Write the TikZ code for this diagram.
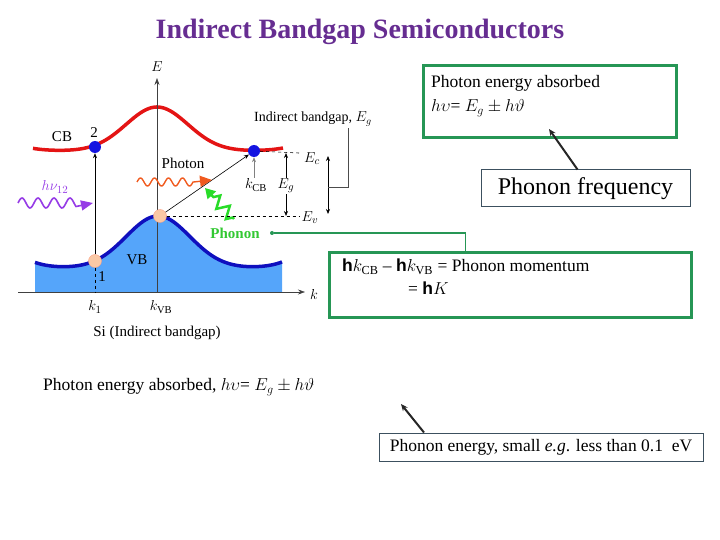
\documentclass[tikz,border=0pt]{standalone}
\usepackage{fontspec}
\setmainfont{Liberation Serif}
\setsansfont{Liberation Sans}
\usepackage{tikz}
\usetikzlibrary{
    arrows.meta,
    positioning,
    calc,
    decorations.pathmorphing
}
\definecolor{TitlePurple}{RGB}{102,45,145}
\definecolor{BoxGreen}{RGB}{38,150,85}
\definecolor{SlateLine}{RGB}{60,80,95}
\definecolor{CBRed}{RGB}{228,20,20}
\definecolor{DotBlue}{RGB}{20,20,225}
\definecolor{VBBlue}{RGB}{15,15,190}
\definecolor{VBFill}{RGB}{85,165,250}
\definecolor{HoleOrange}{RGB}{250,200,165}
\definecolor{WavePurple}{RGB}{150,60,230}
\definecolor{WaveOrange}{RGB}{240,90,30}
\definecolor{ZapGreen}{RGB}{40,220,40}
\definecolor{PhononGreen}{RGB}{50,200,50}
\newcommand{\hb}{\textsf{\textbf{h}}}
\tikzset{
  lbl/.style   = {font=\fontsize{15}{17}\selectfont, inner sep=1pt},
  txt/.style   = {font=\fontsize{17.5}{20}\selectfont, inner sep=0pt},
  gbox/.style  = {draw=BoxGreen, line width=3pt},
  sbox/.style  = {draw=SlateLine, line width=1pt, fill=white},
  ax/.style    = {-{Stealth[length=7pt,width=5pt]}, line width=0.6pt, black!75},
  tarr/.style  = {-{Stealth[length=5pt,width=4pt]}, line width=0.6pt},
  darr/.style  = {-{Stealth[length=7pt,width=6pt]}, line width=2pt, black!85},
  hole/.style  = {circle, fill=HoleOrange, draw=HoleOrange!80!red, minimum size=13pt, inner sep=0pt},
  elec/.style  = {circle, fill=DotBlue, minimum size=12pt, inner sep=0pt}
}

\begin{document}
\begin{tikzpicture}[x=1pt, y=-1pt]
\useasboundingbox (0,0) rectangle (720,540);

% title
\node[font=\fontsize{28}{30}\selectfont\bfseries, text=TitlePurple] (title) at (360,32) {Indirect Bandgap Semiconductors};

% bands
\fill[VBFill] plot[domain=35:282, samples=90] (\x, {268-52*exp(-(\x-158)*(\x-158)/2025)-6*((\x-158)*(\x-158)/15376)^4})
  -- (282,292) -- (35,292) -- cycle;
\draw[VBBlue, line width=3.5pt] plot[domain=35:282, samples=90] (\x, {268-52*exp(-(\x-158)*(\x-158)/2025)-6*((\x-158)*(\x-158)/15376)^4});
\draw[CBRed, line width=3.5pt] plot[domain=33:283, samples=90] (\x, {151-44*exp(-(\x-157)*(\x-157)/1900)-3*((\x-157)*(\x-157)/15876)^4});

% axes
\coordinate (origin) at (157,292);
\coordinate (etop) at (157,78);
\coordinate (kstart) at (18,292);
\coordinate (kend) at (305,292);
\draw[ax] (kstart) -- (kend);
\draw[ax] (origin) -- (etop);
\node[lbl] (elbl) at (157,67) {$E$};
\node[lbl] (klbl) at (314,294) {$k$};

% carriers
\node[hole] (h1) at (95,261) {};
\node[hole] (hvb) at (160,216) {};
\node[elec] (e2) at (95,147) {};
\node[elec] (ecb) at (254,151) {};
\draw[tarr] (h1) -- (e2);
\draw[dashed, line width=0.6pt] (h1) -- (h1 |- origin);
\draw[tarr] (hvb) -- (ecb);

\node[lbl] (cb) at (62,137) {CB};
\node[lbl] (n2) at (94,133) {2};
\node[lbl] (vb) at (137,260) {VB};
\node[lbl] (n1) at (102,277) {1};
\node[lbl] (k1) at (95,307) {$k_1$};
\node[lbl] (kvb) at (161,307) {$k_{\mathrm{VB}}$};
\node[lbl] (si) at (157,333) {Si (Indirect bandgap)};

% photons and phonon
\node[lbl, text=WavePurple] (hnu) at (55,187) {$h\nu_{12}$};
\coordinate (pw1) at (93,203);
\draw[WavePurple, line width=1.6pt, -{Triangle[length=12pt,width=10pt]}]
  plot[domain=0:58, samples=70, smooth] ({18+\x}, {203-5*sin(\x*22.5)}) -- (pw1);
\node[lbl] (photon) at (183,163) {Photon};
\coordinate (ow1) at (212,180);
\draw[WaveOrange, line width=1.4pt, -{Triangle[length=12pt,width=11pt]}]
  plot[domain=0:56, samples=70, smooth] ({137+\x}, {182-4*sin(\x*25.7)}) -- (ow1);
\coordinate (zz0) at (234,219);
\coordinate (zz1) at (205,188);
\draw[ZapGreen, line width=2.5pt, decorate,
      decoration={zigzag, amplitude=6pt, segment length=14pt, pre length=2pt, post length=9pt},
      -{Triangle[length=10pt,width=11pt]}] (zz0) -- (zz1);
\node[lbl, font=\fontsize{15}{17}\selectfont\bfseries, text=PhononGreen] (phonon) at (235,233) {Phonon};

% gap markers
\node[lbl] (kcb) at (256,185) {$k_{\mathrm{CB}}$};
\draw[tarr, gray] (kcb.north -| ecb) -- (ecb.south);
\coordinate (ecend) at (299,153);
\coordinate (evend) at (299,216);
\draw[dashed, line width=0.6pt] (ecb) -- (ecend);
\draw[dashed, line width=0.6pt] (hvb) -- (evend);
\node[lbl] (ec) at (312,159) {$E_c$};
\node[lbl] (ev) at (310,218) {$E_v$};
\node[lbl] (eg) at (286,186) {$E_g$};
\draw[tarr] (eg.north) -- (eg.north |- ecend);
\draw[tarr] (eg.south) -- (eg.south |- evend);
\coordinate (gtop) at (328,156);
\coordinate (gbot) at (328,214);
\draw[{Stealth[length=5pt,width=4pt]}-{Stealth[length=5pt,width=4pt]}, line width=0.6pt] (gtop) -- (gbot);
\node[lbl, font=\fontsize{14}{16}\selectfont] (ibg) at (313,119) {Indirect bandgap, $E_g$};
\coordinate (gmid) at (328,187);
\coordinate (brk) at (348,128);
\draw[line width=0.6pt, black!70] (gmid) -| (brk);

% right hand boxes
\node[gbox, minimum width=253pt, minimum height=72pt] (absbox) at (549.5,102) {};
\node[txt, anchor=west] (abs1) at (431,83) {Photon energy absorbed};
\node[txt, anchor=west] (abs2) at (431,108) {$h\upsilon$= $E_g \pm h\vartheta$};
\node[sbox, minimum width=209pt, minimum height=37pt, font=\fontsize{24}{26}\selectfont] (pfreq) at (585.5,188.5) {Phonon frequency};
\coordinate (fqtip) at (549,129);
\draw[darr] ([xshift=-8pt]pfreq.north) -- (fqtip);

\node[gbox, minimum width=362pt, minimum height=65pt] (mom) at (510,284.5) {};
\node[circle, fill=BoxGreen, inner sep=0pt, minimum size=4pt] (pdot) at (272,233) {};
\draw[BoxGreen, line width=1.5pt] (pdot) -| ($(mom.north west)+(138,0)$);
\node[txt, anchor=west] (mom1) at (342,267) {\hb$k_{\mathrm{CB}}$ -- \hb$k_{\mathrm{VB}}$ = Phonon momentum};
\node[txt, anchor=west] (mom2) at (408,288) {= \hb$K$};

% bottom notes
\node[txt, anchor=west] (absorb) at (43,387) {Photon energy absorbed, $h\upsilon$= $E_g \pm h\vartheta$};
\node[sbox, txt, minimum width=324pt, minimum height=28pt] (pen) at (541,447) {Phonon energy, small \textit{e.g}. less than 0.1~ eV};
\coordinate (pentip) at (401,404);
\draw[darr] ([xshift=-117pt]pen.north) -- (pentip);
\end{tikzpicture}
\end{document}
